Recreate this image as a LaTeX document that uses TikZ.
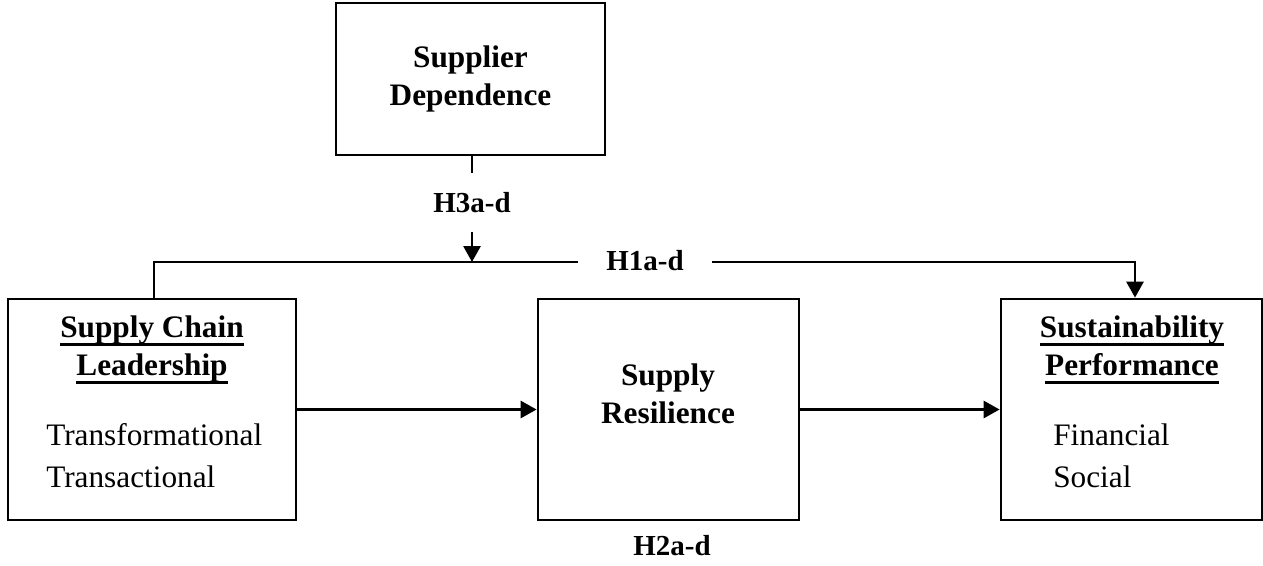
\documentclass[tikz,border=0pt]{standalone}
\usepackage{fontspec}
\setmainfont{Liberation Serif}
\usetikzlibrary{arrows.meta}

% Underline placed at a fixed distance below the baseline
\newcommand{\headul}[1]{\setbox0=\hbox{#1}\rlap{\vrule height -3.2pt depth 4.9pt width \wd0}\box0}

\begin{document}
\begin{tikzpicture}[x=0.02cm, y=-0.02cm, line width=1.6pt,
  box/.style={draw, inner sep=0pt},
  head/.style={font=\fontsize{17.8}{21.4}\selectfont\bfseries, align=center},
  item/.style={font=\fontsize{17.8}{23.8}\selectfont, align=left, anchor=west},
  hyp/.style={font=\fontsize{16.5}{20}\selectfont\bfseries, inner sep=1pt},
  arr/.style={-{Triangle[length=0.32cm, width=0.34cm]}}]

  % Fix the page size
  \useasboundingbox (0,0) rectangle (1263,565);

  % Draw the boxes
  \node[box, minimum width=5.38cm, minimum height=3.04cm] (sd) at (470.5,79) {};
  \node[box, minimum width=5.76cm, minimum height=4.42cm] (scl) at (152,409.5) {};
  \node[box, minimum width=5.22cm, minimum height=4.42cm] (sr) at (668.5,409.5) {};
  \node[box, minimum width=5.22cm, minimum height=4.42cm] (sp) at (1131.5,409.5) {};

  % Texts inside the boxes
  \node[head] (sdtext) at (sd) {Supplier\\Dependence};
  \node[head] (scltext) at (152,350) {\headul{Supply Chain}\\\headul{Leadership}};
  \node[item] (sclitems) at (39,456) {Transformational\\Transactional};
  \node[head] (srtext) at (668,394) {Supply\\Resilience};
  \node[head] (sptext) at (1132,350) {\headul{Sustainability}\\\headul{Performance}};
  \node[item] (spitems) at (1046,456) {Financial\\Social};

  % Define points for the connectors
  \coordinate (sdend) at (472,173);
  \coordinate (h3start) at (472,232);
  \coordinate (h3end) at (472,262);
  \coordinate (sclcorner) at (154,262);
  \coordinate (h1left) at (578,262);
  \coordinate (h1right) at (712,262);
  \coordinate (spcorner) at (1135,262);

  % Hypothesis labels
  \node[hyp] (h3) at (472,203) {H3a-d};
  \node[hyp] (h1) at (645,261) {H1a-d};
  \node[hyp] (h2) at (672,546) {H2a-d};

  % Draw the connectors
  \draw (sd.south -| sdend) -- (sdend);
  \draw[arr] (h3start) -- (h3end);
  \draw (scl.north -| sclcorner) -- (sclcorner) -- (h1left);
  \draw[arr] (h1right) -- (spcorner) -- (sp.north -| spcorner);
  \draw[arr] (scl.east) -- (sr.west);
  \draw[arr] (sr.east) -- (sp.west);

\end{tikzpicture}
\end{document}
